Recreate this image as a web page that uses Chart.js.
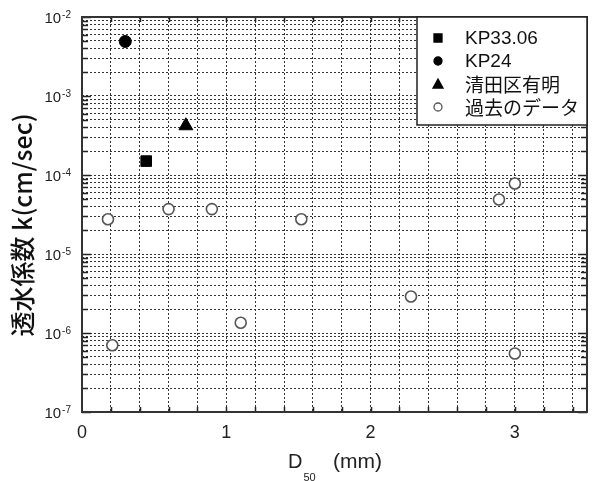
<!DOCTYPE html>
<html>
<head>
<meta charset="utf-8">
<script src="https://cdn.jsdelivr.net/npm/chart.js@4"></script>
<style>
  html, body { margin: 0; padding: 0; background: #fff; overflow: hidden; }
  #wrap { width: 596px; height: 481px; }
</style>
</head>
<body>
<div id="wrap"><canvas id="chart" width="596" height="481"></canvas></div>
<script>
// --- data ---
const kp3306X = [0.445];
const kp3306Y = [1.5e-4];
const kp24X = [0.30];
const kp24Y = [4.9e-3];
const kiyotaX = [0.72];
const kiyotaY = [4.2e-4];
const pastX = [0.18, 0.21, 0.60, 0.90, 1.10, 1.52, 2.28, 2.89, 3.00, 3.00];
const pastY = [2.75e-5, 7.0e-7, 3.7e-5, 3.7e-5, 1.35e-6, 2.75e-5, 2.9e-6, 4.9e-5, 7.8e-5, 5.5e-7];

const seriesLabels = ['KP33.06', 'KP24', '清田区有明', '過去のデータ'];
const xTickLabels = [0, 1, 2, 3];
const yDecades = [-7, -6, -5, -4, -3, -2];
const yMultipliers = [1, 2, 3, 4, 5, 6, 7, 8, 9];

const latin = '"Liberation Sans Narrow", "Liberation Sans", Arial, sans-serif';
const jp = '"Noto Sans CJK JP", "Liberation Sans", sans-serif';

function toPoints(xs, ys) {
    return xs.map((x, i) => ({ x: x, y: ys[i] }));
}

// frame, inward ticks, tick labels, axis titles and the boxed legend
const framePlugin = {
    id: 'frame',
    afterDraw(chart) {
        const ctx = chart.ctx;
        const a = chart.chartArea;
        const xs = chart.scales.x;
        const ys = chart.scales.y;
        ctx.save();

        // inward ticks on all four sides
        ctx.strokeStyle = '#222';
        ctx.lineWidth = 1.5;
        ctx.beginPath();
        for (let v = 0.2; v < 3.5; v += 0.2) {
            const px = Math.round(xs.getPixelForValue(v)) + 0.5;
            ctx.moveTo(px, a.bottom); ctx.lineTo(px, a.bottom - 5);
            ctx.moveTo(px, a.top); ctx.lineTo(px, a.top + 5);
        }
        yDecades.forEach(e => {
            yMultipliers.forEach(m => {
                const val = m * Math.pow(10, e);
                if (val > 1e-2 * 1.0001) return;
                const py = Math.round(ys.getPixelForValue(val)) + 0.5;
                const len = m === 1 ? 9 : 6;
                ctx.moveTo(a.left, py); ctx.lineTo(a.left + len, py);
                ctx.moveTo(a.right, py); ctx.lineTo(a.right - len, py);
            });
        });
        ctx.stroke();

        // frame
        ctx.lineWidth = 2;
        ctx.strokeStyle = '#333';
        ctx.strokeRect(a.left, a.top, a.right - a.left, a.bottom - a.top);

        // y tick labels with superscripts
        ctx.fillStyle = '#222';
        ctx.textBaseline = 'alphabetic';
        yDecades.forEach(e => {
            const py = ys.getPixelForValue(Math.pow(10, e));
            const exp = String(e);
            ctx.font = '10px ' + latin;
            const ew = ctx.measureText(exp).width;
            ctx.textAlign = 'right';
            ctx.fillText(exp, 71, py + 1);
            ctx.font = '15px ' + latin;
            ctx.fillText('10', 71 - ew - 1, py + 6);
        });

        // x tick labels
        ctx.font = '18px ' + latin;
        ctx.textAlign = 'center';
        ctx.textBaseline = 'middle';
        xTickLabels.forEach(v => {
            ctx.fillText(String(v), xs.getPixelForValue(v), 433);
        });

        // x axis title: D50 (mm)
        ctx.textAlign = 'left';
        ctx.textBaseline = 'alphabetic';
        ctx.font = '20px ' + latin;
        let tx = 288;
        ctx.fillText('D', tx, 468);
        tx += ctx.measureText('D').width + 1;
        ctx.font = '11px ' + latin;
        ctx.fillText('50', tx, 481);
        ctx.font = '21px ' + latin;
        ctx.fillText('(mm)', 333, 468);

        // y axis title
        ctx.save();
        ctx.translate(22, 225);
        ctx.rotate(-Math.PI / 2);
        ctx.textAlign = 'center';
        ctx.textBaseline = 'middle';
        ctx.font = '500 25px ' + jp;
        ctx.fillStyle = '#111';
        ctx.fillText('透水係数 k(cm/sec)', 0, 0);
        ctx.restore();

        // legend box
        const lx = 417, ly = a.top, lw = a.right - lx, lh = 125 - a.top;
        ctx.fillStyle = '#fff';
        ctx.fillRect(lx, ly, lw, lh);
        ctx.lineWidth = 1.5;
        ctx.strokeStyle = '#222';
        ctx.strokeRect(lx, ly, lw, lh);
        const rowY = [38, 61, 84, 107];
        chart.data.datasets.forEach((ds, i) => {
            const cy = rowY[i];
            const cx = 438;
            ctx.fillStyle = ds.backgroundColor;
            ctx.strokeStyle = ds.borderColor;
            ctx.lineWidth = 1.3;
            ctx.beginPath();
            if (ds.pointStyle === 'rect') {
                ctx.rect(cx - 4, cy - 4, 8, 8);
            } else if (ds.pointStyle === 'triangle') {
                ctx.moveTo(cx, cy - 5); ctx.lineTo(cx + 5, cy + 4); ctx.lineTo(cx - 5, cy + 4); ctx.closePath();
            } else {
                ctx.arc(cx, cy, 4, 0, Math.PI * 2);
            }
            ctx.fill();
            ctx.stroke();
            ctx.fillStyle = '#111';
            ctx.textAlign = 'left';
            ctx.textBaseline = 'middle';
            ctx.font = '19px ' + (i < 2 ? latin : jp);
            ctx.fillText(ds.label, 465, cy + 1);
        });

        ctx.restore();
    }
};

const ctx = document.getElementById('chart').getContext('2d');
new Chart(ctx, {
    type: 'scatter',
    data: {
        datasets: [
            {
                label: seriesLabels[0],
                data: toPoints(kp3306X, kp3306Y),
                pointStyle: 'rect',
                pointRadius: 7.5,
                backgroundColor: '#000',
                borderColor: '#000',
                borderWidth: 1
            },
            {
                label: seriesLabels[1],
                data: toPoints(kp24X, kp24Y),
                pointStyle: 'circle',
                pointRadius: 6,
                backgroundColor: '#000',
                borderColor: '#000',
                borderWidth: 1
            },
            {
                label: seriesLabels[2],
                data: toPoints(kiyotaX, kiyotaY),
                pointStyle: 'triangle',
                pointRadius: 8,
                backgroundColor: '#000',
                borderColor: '#000',
                borderWidth: 1
            },
            {
                label: seriesLabels[3],
                data: toPoints(pastX, pastY),
                pointStyle: 'circle',
                pointRadius: 5.5,
                backgroundColor: '#fff',
                borderColor: '#555',
                borderWidth: 1.6
            }
        ]
    },
    options: {
        responsive: false,
        animation: false,
        layout: { padding: { top: 17, right: 3, left: 0, bottom: 0 } },
        plugins: {
            legend: { display: false },
            tooltip: { enabled: false }
        },
        scales: {
            x: {
                type: 'linear',
                min: 0,
                max: 3.5,
                ticks: { display: false },
                afterBuildTicks(scale) {
                    const t = [];
                    for (let i = 0; i <= 17; i++) t.push({ value: +(i * 0.2).toFixed(1) });
                    scale.ticks = t;
                },
                afterFit(scale) { scale.height = 481 - 412; },
                grid: {
                    color: '#333',
                    lineWidth: 1,
                    drawTicks: false
                },
                border: { display: false, dash: [2, 2] }
            },
            y: {
                type: 'logarithmic',
                min: 1e-7,
                max: 1e-2,
                ticks: { display: false },
                afterBuildTicks(scale) {
                    const t = [];
                    yDecades.forEach(e => {
                        yMultipliers.forEach(m => {
                            const v = m * Math.pow(10, e);
                            if (v <= 1e-2 * 1.0001) t.push({ value: v, major: m === 1 });
                        });
                    });
                    scale.ticks = t;
                },
                afterFit(scale) { scale.width = 82; },
                grid: {
                    color: '#333',
                    lineWidth: 1,
                    drawTicks: false
                },
                border: { display: false, dash: [2, 2] }
            }
        }
    },
    plugins: [framePlugin]
});
</script>
</body>
</html>
